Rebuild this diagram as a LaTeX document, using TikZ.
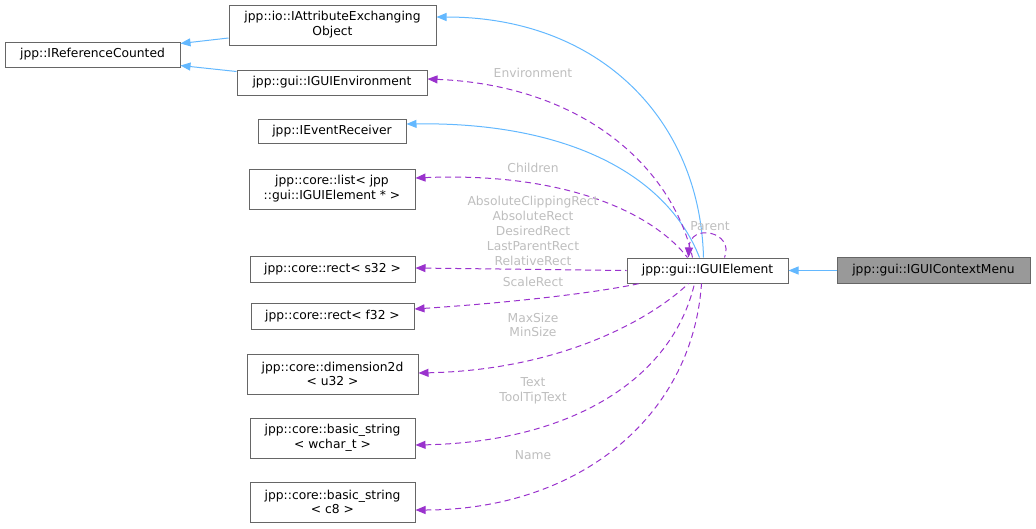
\documentclass[tikz,border=0pt]{standalone}
\usepackage{fontspec}
\setmainfont{DejaVu Sans}
\usetikzlibrary{arrows.meta,calc}
\definecolor{boxline}{RGB}{102,102,102}
\definecolor{inh}{RGB}{99,184,255}
\definecolor{use}{RGB}{154,50,205}
\definecolor{lbl}{RGB}{190,190,190}
\definecolor{cur}{RGB}{153,153,153}
\tikzset{
  cls/.style={draw=boxline, fill=white, line width=1pt, inner sep=0pt, align=center, font=\fontsize{12.3}{14.8}\selectfont},
  inhedge/.style={draw=inh, line width=1pt, {Triangle[length=10pt,width=8pt,fill=inh]}-},
  useedge/.style={draw=use, line width=1pt, dash pattern=on 6pt off 4pt, {Triangle[length=10pt,width=8pt,fill=use]}-},
  elbl/.style={text=lbl, align=center, inner sep=0pt, font=\fontsize{12.3}{14.8}\selectfont},
}
\begin{document}
\begin{tikzpicture}[x=1pt,y=-1pt]
\useasboundingbox (0,0) rectangle (1036,528);
\node[cls, minimum width=175, minimum height=25] (irc) at (92.5,54.5) {jpp::IReferenceCounted};
\node[cls, minimum width=207, minimum height=40] (iaeo) at (332.5,25) {jpp::io::IAttributeExchanging\\Object};
\node[cls, minimum width=190, minimum height=25] (ienv) at (332,82.5) {jpp::gui::IGUIEnvironment};
\node[cls, minimum width=148, minimum height=24] (ievr) at (332,131) {jpp::IEventReceiver};
\node[cls, minimum width=166, minimum height=40] (ilist) at (332,189) {jpp::core::list< jpp\\::gui::IGUIElement * >};
\node[cls, minimum width=165, minimum height=26] (rs32) at (332.5,269) {jpp::core::rect< s32 >};
\node[cls, minimum width=163, minimum height=26] (rf32) at (332.5,316) {jpp::core::rect< f32 >};
\node[cls, minimum width=171, minimum height=40] (dim) at (332.5,374) {jpp::core::dimension2d\\< u32 >};
\node[cls, minimum width=165, minimum height=40] (bsw) at (332.5,438) {jpp::core::basic\_string\\< wchar\_t >};
\node[cls, minimum width=165, minimum height=40] (bsc) at (332.5,502) {jpp::core::basic\_string\\< c8 >};
\node[cls, minimum width=161, minimum height=25] (elem) at (707.5,270.5) {jpp::gui::IGUIElement};
\node[cls, fill=cur, minimum width=193, minimum height=26] (ctx) at (933.5,270.5) {jpp::gui::IGUIContextMenu};

% inheritance
\draw[inhedge] ($(irc.east)+(0,-11)$) -- ($(iaeo.west)+(0,13)$);
\draw[inhedge] ($(irc.east)+(0,11)$) -- ($(ienv.west)+(0,-11)$);
\draw[inhedge] (elem.east) -- (ctx.west);
\draw[inhedge] ($(iaeo.east)+(0,-8)$) .. controls (600,17) and (700,120) .. ($(elem.north west)+(77,0)$);
\draw[inhedge] ($(ievr.east)+(0,-7)$) .. controls (560,122) and (665,170) .. ($(elem.north west)+(73,0)$);

% usage
\draw[useedge] ($(ienv.east)+(0,-3.5)$) .. controls (580,85) and (672,165) .. ($(elem.north west)+(66,0)$);
\draw[useedge] ($(ilist.east)+(0,-11)$) .. controls (560,172) and (650,210) .. ($(elem.north west)+(61,0)$);
\draw[useedge] ($(rs32.east)+(0,-1)$) -- (elem.west);
\draw[useedge] ($(rf32.east)+(0,-7)$) .. controls (520,302) and (600,292) .. ($(elem.south west)+(13,0)$);
\draw[useedge] ($(dim.east)+(0,-1)$) .. controls (560,370) and (650,320) .. ($(elem.south west)+(62,0)$);
\draw[useedge] ($(bsw.east)+(0,7)$) .. controls (570,442) and (672,380) .. ($(elem.south west)+(68,0)$);
\draw[useedge] ($(bsc.east)+(0,8)$) .. controls (575,510) and (692,420) .. ($(elem.south west)+(75,0)$);
\draw[useedge] ($(elem.north west)+(62,0)$) .. controls (690,222) and (735,232) .. ($(elem.north west)+(98,0)$);

% labels
\node[elbl] (lenv) at (533,73) {Environment};
\node[elbl] (lchild) at (533,168) {Children};
\node[elbl] (lrect) at (533,231) {AbsoluteClippingRect\\AbsoluteRect\\DesiredRect\\LastParentRect\\RelativeRect};
\node[elbl] (lscale) at (533,282) {ScaleRect};
\node[elbl] (lsize) at (533,325) {MaxSize\\MinSize};
\node[elbl] (ltext) at (533,390.5) {Text\\ToolTipText};
\node[elbl] (lname) at (533,455) {Name};
\node[elbl] (lparent) at (710,226) {Parent};
\end{tikzpicture}
\end{document}
